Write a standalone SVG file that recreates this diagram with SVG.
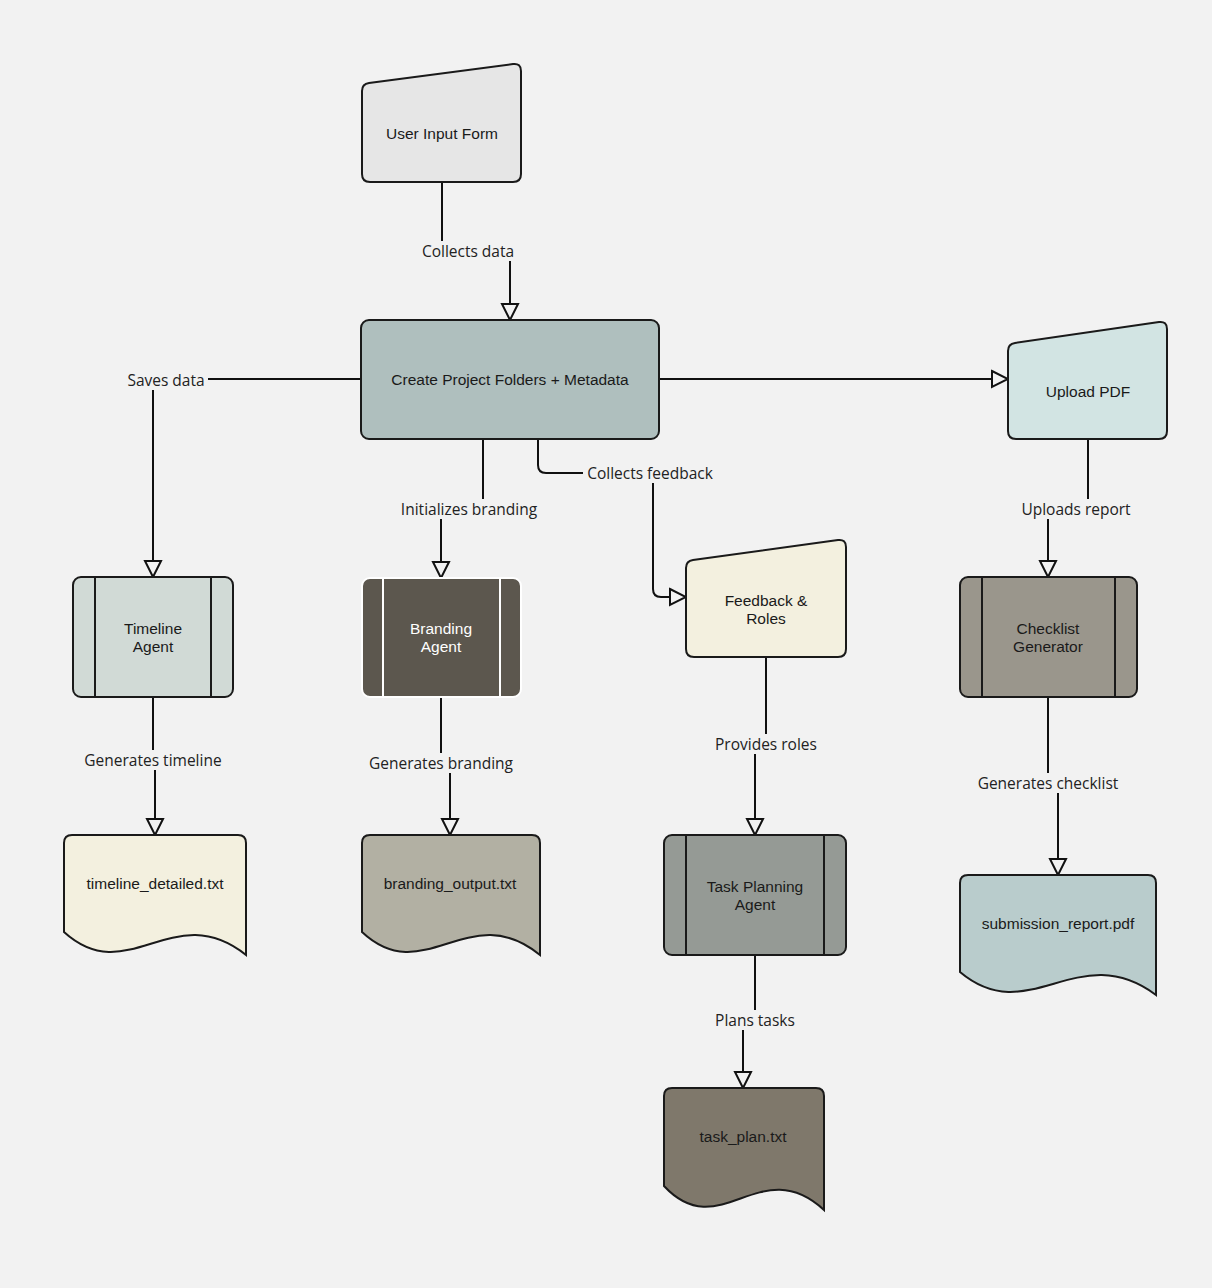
<svg xmlns="http://www.w3.org/2000/svg" width="1212" height="1288" viewBox="0 0 1212 1288">
<defs>
<style>
.node{stroke:#1a1a1a;stroke-width:2}
.nt{font-family:"Liberation Sans",Arial,sans-serif;font-size:15.5px;fill:#1a1a1a;text-anchor:middle;dominant-baseline:central}
.edge{fill:none;stroke:#111;stroke-width:2}
.lbg{fill:#f2f2f2}
.lt{font-family:"Open Sans","Noto Sans",sans-serif;font-size:15.5px;fill:#222;text-anchor:middle;dominant-baseline:central}
</style>
<marker id="arr" markerUnits="userSpaceOnUse" markerWidth="20" markerHeight="20" viewBox="0 0 20 20" refX="18" refY="10" orient="auto">
<path d="M2,2 L18,10 L2,18 Z" fill="#f2f2f2" stroke="#111" stroke-width="2" stroke-linejoin="miter"/>
</marker>
</defs>
<rect width="1212" height="1288" fill="#f2f2f2"/>

<g id="connectors">
<path class="edge" d="M442,182 V251 H510 V320" marker-end="url(#arr)"/>
<path class="edge" d="M361,379 H153 V577" marker-end="url(#arr)"/>
<path class="edge" d="M659,379 H1008" marker-end="url(#arr)"/>
<path class="edge" d="M483,439 V509 H441 V578" marker-end="url(#arr)"/>
<path class="edge" d="M538,439 V465 Q538,473 546,473 H645 Q653,473 653,481 V589 Q653,597 661,597 H686" marker-end="url(#arr)"/>
<path class="edge" d="M1088,439 V509 H1048 V577" marker-end="url(#arr)"/>
<path class="edge" d="M153,697 V760 H155 V835" marker-end="url(#arr)"/>
<path class="edge" d="M441,697 V763 H450 V835" marker-end="url(#arr)"/>
<path class="edge" d="M766,657 V744 H755 V835" marker-end="url(#arr)"/>
<path class="edge" d="M755,955 V1020 H743 V1088" marker-end="url(#arr)"/>
<path class="edge" d="M1048,697 V783 H1058 V875" marker-end="url(#arr)"/>
<rect class="lbg" x="418" y="241" width="100" height="20"/>
<text class="lt" x="468" y="251">Collects data</text>
<rect class="lbg" x="124" y="370" width="84" height="20"/>
<text class="lt" x="166" y="380">Saves data</text>
<rect class="lbg" x="396" y="499" width="147" height="20"/>
<text class="lt" x="469" y="509">Initializes branding</text>
<rect class="lbg" x="583" y="463" width="134" height="20"/>
<text class="lt" x="650" y="473">Collects feedback</text>
<rect class="lbg" x="1018" y="499" width="117" height="20"/>
<text class="lt" x="1076" y="509">Uploads report</text>
<rect class="lbg" x="80" y="750" width="146" height="20"/>
<text class="lt" x="153" y="760">Generates timeline</text>
<rect class="lbg" x="365" y="753" width="153" height="20"/>
<text class="lt" x="441" y="763">Generates branding</text>
<rect class="lbg" x="711" y="734" width="110" height="20"/>
<text class="lt" x="766" y="744">Provides roles</text>
<rect class="lbg" x="710" y="1010" width="90" height="20"/>
<text class="lt" x="755" y="1020">Plans tasks</text>
<rect class="lbg" x="974" y="773" width="150" height="20"/>
<text class="lt" x="1048" y="783">Generates checklist</text>
</g>

<g id="user-input-form">
<path class="node" fill="#e6e6e6" d="M362,91 Q362,84 369,83 L513,64 Q521,63 521,71 L521,174 Q521,182 513,182 L370,182 Q362,182 362,174 Z"/>
<text class="nt" x="442" y="133">User Input Form</text>
</g>

<g id="create-project">
<rect class="node" fill="#afbfbe" x="361" y="320" width="298" height="119" rx="8"/>
<text class="nt" x="510" y="379">Create Project Folders + Metadata</text>
</g>

<g id="upload-pdf">
<path class="node" fill="#d2e4e3" d="M1008,351 Q1008,344 1015,343 L1159,322 Q1167,321 1167,329 L1167,431 Q1167,439 1159,439 L1016,439 Q1008,439 1008,431 Z"/>
<text class="nt" x="1088" y="391">Upload PDF</text>
</g>

<g id="feedback-roles">
<path class="node" fill="#f3f0df" d="M686,568 Q686,561 693,560 L838,540 Q846,539 846,547 L846,649 Q846,657 838,657 L694,657 Q686,657 686,649 Z"/>
<text class="nt" x="766" y="600">Feedback &amp;</text>
<text class="nt" x="766" y="618">Roles</text>
</g>

<g id="timeline-agent">
<rect class="node" fill="#d1dad6" x="73" y="577" width="160" height="120" rx="8"/>
<line class="node" x1="95" y1="577" x2="95" y2="697"/>
<line class="node" x1="211" y1="577" x2="211" y2="697"/>
<text class="nt" x="153" y="628">Timeline</text>
<text class="nt" x="153" y="646">Agent</text>
</g>

<g id="branding-agent">
<rect fill="#5c574e" stroke="#ffffff" stroke-width="2" x="362" y="578" width="159" height="119" rx="8"/>
<line stroke="#ffffff" stroke-width="2" x1="383" y1="578" x2="383" y2="697"/>
<line stroke="#ffffff" stroke-width="2" x1="500" y1="578" x2="500" y2="697"/>
<text class="nt" x="441" y="628" style="fill:#ffffff">Branding</text>
<text class="nt" x="441" y="646" style="fill:#ffffff">Agent</text>
</g>

<g id="checklist-generator">
<rect class="node" fill="#9a968c" x="960" y="577" width="177" height="120" rx="8"/>
<line class="node" x1="982" y1="577" x2="982" y2="697"/>
<line class="node" x1="1115" y1="577" x2="1115" y2="697"/>
<text class="nt" x="1048" y="628">Checklist</text>
<text class="nt" x="1048" y="646">Generator</text>
</g>

<g id="task-planning-agent">
<rect class="node" fill="#959a95" x="664" y="835" width="182" height="120" rx="8"/>
<line class="node" x1="686" y1="835" x2="686" y2="955"/>
<line class="node" x1="824" y1="835" x2="824" y2="955"/>
<text class="nt" x="755" y="886">Task Planning</text>
<text class="nt" x="755" y="904">Agent</text>
</g>

<g id="timeline-detailed">
<path class="node" fill="#f3f0df" d="M64,932 V843 Q64,835 72,835 H238 Q246,835 246,843 V955 C173,897 128,990 64,932 Z"/>
<text class="nt" x="155" y="883">timeline_detailed.txt</text>
</g>

<g id="branding-output">
<path class="node" fill="#b2b0a3" d="M362,932 V843 Q362,835 370,835 H532 Q540,835 540,843 V955 C469,897 424,990 362,932 Z"/>
<text class="nt" x="450" y="883">branding_output.txt</text>
</g>

<g id="submission-report">
<path class="node" fill="#b9cccc" d="M960,972 V883 Q960,875 968,875 H1148 Q1156,875 1156,883 V995 C1078,937 1029,1030 960,972 Z"/>
<text class="nt" x="1058" y="923">submission_report.pdf</text>
</g>

<g id="task-plan">
<path class="node" fill="#7f786b" d="M664,1186 V1096 Q664,1088 672,1088 H816 Q824,1088 824,1096 V1210 C760,1151 720,1246 664,1186 Z"/>
<text class="nt" x="743" y="1136">task_plan.txt</text>
</g>
</svg>
